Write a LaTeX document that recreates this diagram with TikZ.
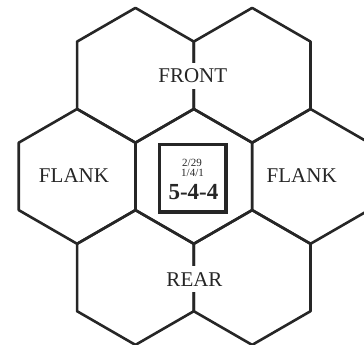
\documentclass[tikz,border=0pt]{standalone}
\usepackage{fontspec}
\setmainfont{Liberation Serif}
\usepackage{tikz}
\usetikzlibrary{shapes.geometric, positioning, calc}
\definecolor{inkgray}{HTML}{262626}

\begin{document}
\begin{tikzpicture}[
  x=1pt, y=1pt,
  hexcell/.style={regular polygon, regular polygon sides=6, shape border rotate=30, draw=inkgray, line width=2.6pt, minimum size=134.8pt, inner sep=0pt, line join=round},
  hexlabel/.style={fill=white, inner sep=6pt, anchor=base, text=inkgray, font=\fontsize{21}{24}\selectfont},
  unitbox/.style={rectangle, draw=inkgray, line width=3.6pt, minimum width=66.4pt, minimum height=67.7pt, inner sep=0pt},
  unitsmall/.style={inner sep=0pt, anchor=base, text=inkgray, font=\fontsize{11}{12}\selectfont},
  unitbig/.style={inner sep=0pt, anchor=base, text=inkgray, font=\fontsize{23}{26}\selectfont\bfseries}
]
  \useasboundingbox (-193.8,-168.6) rectangle (170.2,176.4);

  \node[hexcell] (hC)  at (0,0) {};
  \node[hexcell] (hUL) at (-58.35,101.1) {};
  \node[hexcell] (hUR) at (58.35,101.1) {};
  \node[hexcell] (hL)  at (-116.7,0) {};
  \node[hexcell] (hR)  at (116.7,0) {};
  \node[hexcell] (hLL) at (-58.35,-101.1) {};
  \node[hexcell] (hLR) at (58.35,-101.1) {};

  \node[hexlabel] (front) at (-1,93.4) {FRONT};
  \node[hexlabel] (flankL) at (-119.8,-6.6) {FLANK};
  \node[hexlabel] (flankR) at (107.9,-6.6) {FLANK};
  \node[hexlabel] (rear) at (0.7,-109.6) {REAR};

  \node[unitbox] (unit) at (-1,-2) {};
  \node[unitsmall] (unitA) at (-1.8,9.4) {2/29};
  \node[unitsmall] (unitB) at (-1.3,-0.6) {1/4/1};
  \node[unitbig] (unitC) at (-0.3,-23.6) {5-4-4};
\end{tikzpicture}
\end{document}
